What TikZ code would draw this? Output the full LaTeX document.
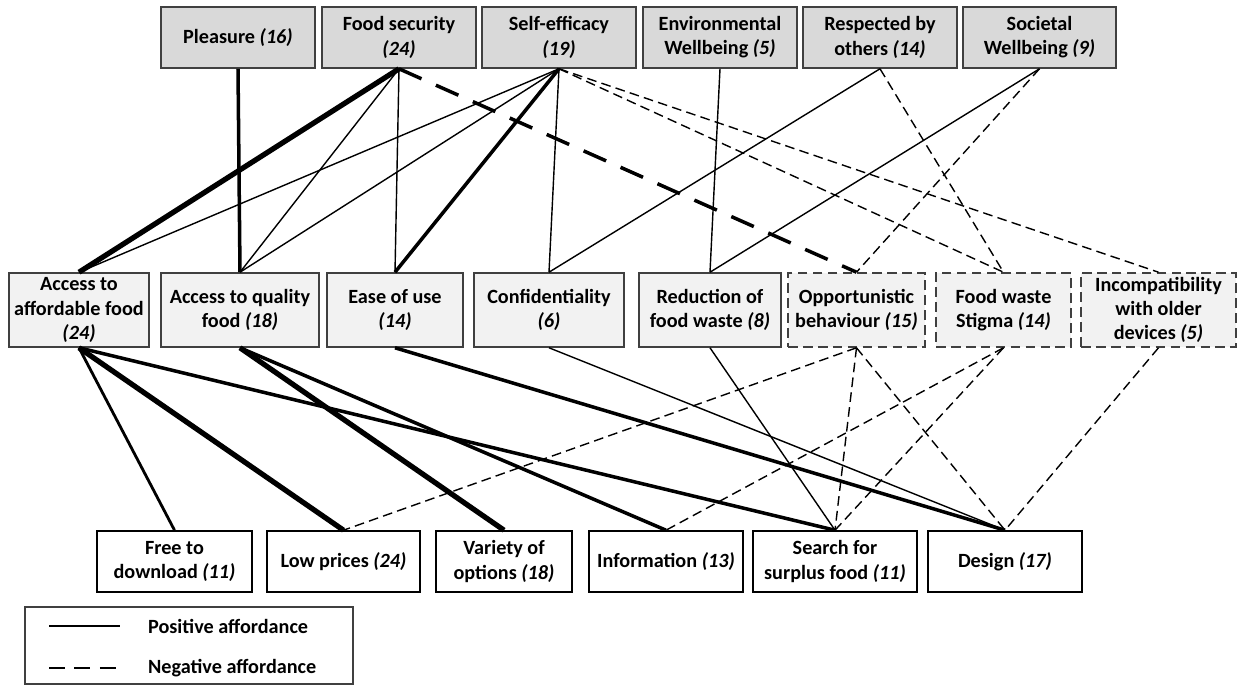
\documentclass[tikz,border=0pt]{standalone}
\usepackage{fontspec}
\setmainfont{Carlito}
\definecolor{TopGray}{RGB}{217,217,217}
\definecolor{MidGray}{RGB}{242,242,242}
\definecolor{EdgeGray}{RGB}{64,64,64}

\begin{document}
\begin{tikzpicture}[x=0.02cm, y=-0.02cm,
  every node/.style={font=\fontsize{11.5}{13.8}\selectfont\bfseries, align=center, inner sep=1pt},
  topbox/.style={draw=EdgeGray, line width=0.9pt, fill=TopGray, minimum height=1.22cm},
  midbox/.style={draw=EdgeGray, line width=0.9pt, fill=MidGray, minimum height=1.48cm},
  midneg/.style={midbox, dash pattern=on 5.5pt off 3pt},
  botbox/.style={draw=black, line width=0.9pt, fill=white, minimum height=1.22cm},
  posthin/.style={line width=0.8pt},
  posmed/.style={line width=1.6pt},
  posthick/.style={line width=2pt},
  posheavy/.style={line width=3pt},
  negthin/.style={line width=0.8pt, dash pattern=on 5.5pt off 3pt},
  negthick/.style={line width=2pt, dash pattern=on 14pt off 9pt}]

  \useasboundingbox (0,0) rectangle (1241,686);

  % Values (top row)
  \node[topbox, minimum width=3.08cm] (pleasure) at (238,37.5) {Pleasure \textit{(16)}};
  \node[topbox, minimum width=3.08cm] (foodsec)  at (399,37.5) {Food security\\ \textit{(24)}};
  \node[topbox, minimum width=3.08cm] (selfeff)  at (559,37.5) {Self-efficacy\\ \textit{(19)}};
  \node[topbox, minimum width=3.08cm] (envwell)  at (720,37.5) {Environmental\\ Wellbeing \textit{(5)}};
  \node[topbox, minimum width=3.08cm] (respect)  at (880,37.5) {Respected by\\ others \textit{(14)}};
  \node[topbox, minimum width=3.06cm] (socwell)  at (1039.5,37.5) {Societal\\ Wellbeing \textit{(9)}};

  % Consequences (middle row)
  \node[midbox, minimum width=2.80cm] (afford)   at (79,310)     {Access to\\ affordable food\\ \textit{(24)}};
  \node[midbox, minimum width=3.16cm] (quality)  at (240,310)    {Access to quality\\ food \textit{(18)}};
  \node[midbox, minimum width=2.72cm] (ease)     at (395,310)    {Ease of use\\ \textit{(14)}};
  \node[midbox, minimum width=3.00cm] (confid)   at (549,310)    {Confidentiality\\ \textit{(6)}};
  \node[midbox, minimum width=2.84cm] (reduct)   at (710,310)    {Reduction of\\ food waste \textit{(8)}};
  \node[midneg, minimum width=2.74cm] (opport)   at (856.5,310)  {Opportunistic\\ behaviour \textit{(15)}};
  \node[midneg, minimum width=2.70cm] (stigma)   at (1003.5,310) {Food waste\\ Stigma \textit{(14)}};
  \node[midneg, minimum width=3.10cm] (incompat) at (1158.5,310) {Incompatibility\\ with older\\ devices \textit{(5)}};

  % Attributes (bottom row)
  \node[botbox, minimum width=3.10cm] (free)     at (174.5,561.5) {Free to\\ download \textit{(11)}};
  \node[botbox, minimum width=3.06cm] (lowprice) at (343.5,561.5) {Low prices \textit{(24)}};
  \node[botbox, minimum width=2.72cm] (variety)  at (504,561.5)   {Variety of\\ options \textit{(18)}};
  \node[botbox, minimum width=3.08cm] (info)     at (666,561.5)   {Information \textit{(13)}};
  \node[botbox, minimum width=3.28cm] (search)   at (835,561.5)   {Search for\\ surplus food \textit{(11)}};
  \node[botbox, minimum width=3.08cm] (design)   at (1005,561.5)  {Design \textit{(17)}};

  % Links values -> consequences
  \draw[posthick] (pleasure.south) -- (quality.north);
  \draw[posheavy] (foodsec.south) -- (afford.north);
  \draw[posthin]  (foodsec.south) -- (quality.north);
  \draw[posthin]  (foodsec.south) -- (ease.north);
  \draw[negthick] (foodsec.south) -- (opport.north);
  \draw[posthin]  (selfeff.south) -- (afford.north);
  \draw[posthin]  (selfeff.south) -- (quality.north);
  \draw[posthick] (selfeff.south) -- (ease.north);
  \draw[posthin]  (selfeff.south) -- (confid.north);
  \draw[negthin]  (selfeff.south) -- (stigma.north);
  \draw[negthin]  (selfeff.south) -- (incompat.north);
  \draw[posthin]  (envwell.south) -- (reduct.north);
  \draw[posthin]  (respect.south) -- (confid.north);
  \draw[negthin]  (respect.south) -- (stigma.north);
  \draw[posthin]  (socwell.south) -- (reduct.north);
  \draw[negthin]  (socwell.south) -- (opport.north);

  % Links consequences -> attributes
  \draw[posmed]   (afford.south) -- (free.north);
  \draw[posheavy] (afford.south) -- (lowprice.north);
  \draw[posthick] (afford.south) -- (search.north);
  \draw[posheavy] (quality.south) -- (variety.north);
  \draw[posthick] (quality.south) -- (info.north);
  \draw[posthick] (ease.south) -- (design.north);
  \draw[posthin]  (confid.south) -- (design.north);
  \draw[posthin]  (reduct.south) -- (search.north);
  \draw[negthin]  (opport.south) -- (lowprice.north);
  \draw[negthin]  (opport.south) -- (search.north);
  \draw[negthin]  (opport.south) -- (design.north);
  \draw[negthin]  (stigma.south) -- (info.north);
  \draw[negthin]  (stigma.south) -- (search.north);
  \draw[negthin]  (incompat.south) -- (design.north);

  % Legend
  \draw[EdgeGray, line width=0.8pt] (25,607) rectangle (353,684);
  \coordinate (posstart) at (49,626);
  \coordinate (posend)   at (120,626);
  \coordinate (negstart) at (49,668);
  \coordinate (negend)   at (120,668);
  \draw[line width=1.2pt] (posstart) -- (posend);
  \draw[line width=1.2pt, dash pattern=on 9pt off 5.5pt] (negstart) -- (negend);
  \node[anchor=west] (postext) at (146,626) {Positive affordance};
  \node[anchor=west] (negtext) at (146,668) {Negative affordance};

\end{tikzpicture}
\end{document}
